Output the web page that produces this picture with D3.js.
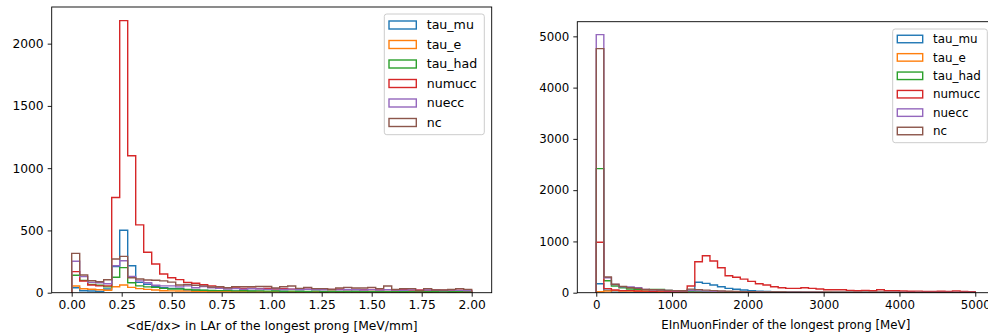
<!DOCTYPE html>
<html>
<head>
<meta charset="utf-8">
<script src="https://d3js.org/d3.v7.min.js"></script>
<style>
  body { margin: 0; background: #fff; }
  svg { font-family: "DejaVu Sans", sans-serif; }
</style>
</head>
<body>
<svg id="chart" width="988" height="334"></svg>
<script>
// categories (legend order) and matplotlib tab10 colours
const categories = ["tau_mu", "tau_e", "tau_had", "numucc", "nuecc", "nc"];
const colors = ["#1f77b4", "#ff7f0e", "#2ca02c", "#d62728", "#9467bd", "#8c564b"];

// left panel: <dE/dx>, 50 bins from 0 to 2 MeV/mm
const dedxEdges = { lo: 0, hi: 2, n: 50 };
const dedxTauMu = [40, 16, 14, 11, 30, 209, 501, 217, 83, 68, 50, 40, 35, 35, 22, 20, 18, 15,
  14, 12, 13, 10, 12, 11, 9, 12, 10, 8, 11, 9, 10, 8, 9, 7, 10, 8, 9, 7, 8, 9, 6, 8, 7, 9, 6, 7, 8, 6, 7, 6];
const dedxTauE = [54, 32, 28, 24, 20, 48, 62, 43, 33, 27, 22, 16, 15, 14, 13, 12, 11, 10,
  9, 10, 8, 9, 8, 7, 9, 8, 7, 8, 6, 7, 8, 6, 7, 6, 7, 5, 6, 7, 5, 6, 5, 6, 5, 6, 4, 5, 6, 5, 4, 5];
const dedxTauHad = [140, 99, 67, 60, 47, 124, 201, 80, 55, 47, 43, 35, 30, 30, 27, 22, 20, 18,
  17, 18, 15, 16, 14, 15, 13, 14, 12, 13, 12, 11, 13, 10, 12, 11, 10, 12, 9, 11, 10, 9, 11, 8, 10, 9, 8, 10, 9, 8, 9, 8];
const dedxNumucc = [169, 94, 62, 55, 55, 765, 2185, 1100, 545, 325, 230, 150, 120, 105, 83, 76, 65, 55,
  45, 40, 38, 35, 36, 33, 34, 30, 32, 29, 31, 28, 30, 27, 26, 28, 25, 27, 24, 26, 23, 25, 22, 24, 21, 23, 20, 22, 21, 19, 20, 18];
const dedxNuecc = [252, 129, 83, 80, 72, 217, 257, 130, 95, 80, 60, 55, 55, 47, 55, 40, 50, 40,
  35, 30, 33, 28, 32, 30, 27, 31, 26, 29, 25, 28, 26, 24, 27, 23, 26, 24, 22, 25, 21, 24, 22, 20, 23, 19, 22, 20, 18, 21, 19, 17];
const dedxNc = [316, 142, 96, 88, 104, 271, 292, 120, 110, 102, 100, 95, 85, 62, 66, 60, 55, 46,
  48, 40, 48, 48, 48, 50, 50, 38, 48, 54, 35, 43, 33, 33, 27, 38, 43, 38, 38, 43, 33, 54, 27, 33, 33, 16, 33, 22, 22, 27, 33, 27];

// right panel: EInMuonFinder, 50 bins from 0 to 5000 MeV
const emuEdges = { lo: 0, hi: 5000, n: 50 };
const emuTauMu = [176, 47, 12, 8, 6, 5, 5, 4, 4, 4, 5, 10, 50, 203, 182, 150, 117, 85, 66, 52,
  40, 30, 22, 16, 12, 9, 8, 7, 7, 6, 6, 5, 5, 4, 4, 4, 3, 3, 3, 3, 2, 2, 2, 2, 2, 1, 1, 1, 1, 1];
const emuTauE = [20, 33, 40, 33, 30, 27, 22, 18, 15, 12, 10, 9, 12, 10, 9, 8, 7, 7, 6, 6,
  5, 5, 5, 4, 4, 4, 3, 3, 3, 3, 3, 2, 2, 2, 2, 2, 2, 2, 1, 1, 1, 1, 1, 1, 1, 1, 1, 1, 1, 1];
const emuTauHad = [2420, 234, 131, 98, 72, 65, 59, 65, 65, 45, 35, 30, 28, 25, 20, 18, 16, 14, 12, 11,
  10, 9, 9, 8, 8, 7, 7, 6, 6, 6, 5, 5, 5, 5, 4, 4, 4, 4, 3, 3, 3, 3, 3, 2, 2, 2, 2, 2, 2, 2];
const emuNumucc = [983, 80, 53, 40, 40, 33, 30, 28, 30, 28, 25, 30, 130, 605, 722, 619, 488, 332, 300, 265,
  220, 176, 150, 117, 98, 85, 85, 98, 85, 72, 59, 59, 59, 46, 39, 46, 39, 59, 39, 39,
  33, 28, 30, 26, 25, 28, 24, 33, 22, 20];
const emuNuecc = [5034, 293, 160, 117, 111, 98, 65, 55, 50, 42, 38, 35, 40, 35, 30, 26, 22, 20, 17, 15,
  14, 13, 12, 11, 10, 10, 9, 9, 8, 8, 7, 7, 7, 6, 6, 6, 6, 5, 5, 5, 5, 5, 4, 4, 4, 4, 4, 4, 3, 3];
const emuNc = [4761, 306, 164, 124, 98, 85, 65, 59, 52, 46, 40, 38, 70, 60, 50, 40, 32, 28, 24, 20,
  18, 16, 15, 14, 13, 12, 12, 11, 11, 10, 10, 9, 9, 9, 8, 8, 8, 8, 7, 7, 7, 7, 6, 6, 6, 6, 6, 5, 5, 5];

// tick values
const dedxXTicks = [0, 0.25, 0.5, 0.75, 1.0, 1.25, 1.5, 1.75, 2.0];
const dedxYTicks = [0, 500, 1000, 1500, 2000];
const emuXTicks = [0, 1000, 2000, 3000, 4000, 5000];
const emuYTicks = [0, 1000, 2000, 3000, 4000, 5000];

const svg = d3.select("#chart");

function drawPanel(cfg) {
  const edgesArr = d3.range(cfg.edges.n + 1).map(i => cfg.edges.lo + i * (cfg.edges.hi - cfg.edges.lo) / cfg.edges.n);
  const span = cfg.edges.hi - cfg.edges.lo;
  const ymax = d3.max(cfg.series, s => d3.max(s)) * 1.05;

  const x = d3.scaleLinear()
    .domain([cfg.edges.lo - span * 0.05, cfg.edges.hi + span * 0.05])
    .range([cfg.left, cfg.right]);
  const y = d3.scaleLinear()
    .domain([0, ymax])
    .range([cfg.bottom, cfg.top]);

  const g = svg.append("g");
  const clipId = "clip-" + cfg.id;
  g.append("clipPath").attr("id", clipId)
    .append("rect")
    .attr("x", cfg.left).attr("y", cfg.top)
    .attr("width", cfg.right - cfg.left).attr("height", cfg.bottom - cfg.top);

  const line = d3.line().x(d => x(d[0])).y(d => y(d[1]));

  // step histograms, drawn in legend order so nc ends on top
  cfg.series.forEach((vals, k) => {
    const pts = [[edgesArr[0], 0]];
    vals.forEach((v, i) => {
      pts.push([edgesArr[i], v]);
      pts.push([edgesArr[i + 1], v]);
    });
    pts.push([edgesArr[edgesArr.length - 1], 0]);
    g.append("path")
      .attr("clip-path", `url(#${clipId})`)
      .attr("d", line(pts))
      .attr("fill", "none")
      .attr("stroke", colors[k])
      .attr("stroke-width", 1.4)
      .attr("stroke-linejoin", "miter");
  });

  // axes
  const xAxis = d3.axisBottom(x).tickValues(cfg.xTicks).tickFormat(cfg.xFormat)
    .tickSizeInner(4).tickSizeOuter(0).tickPadding(4);
  const yAxis = d3.axisLeft(y).tickValues(cfg.yTicks).tickFormat(d3.format("d"))
    .tickSizeInner(4).tickSizeOuter(0).tickPadding(4);

  const gx = g.append("g").attr("transform", `translate(0,${cfg.bottom})`).call(xAxis);
  const gy = g.append("g").attr("transform", `translate(${cfg.left},0)`).call(yAxis);
  [gx, gy].forEach(a => {
    a.select(".domain").remove();
    a.selectAll("line").attr("stroke", "#000").attr("stroke-width", 0.9);
    a.selectAll("text").attr("fill", "#000").style("font-size", cfg.font + "px")
      .style("font-family", "DejaVu Sans");
  });

  // frame
  g.append("rect")
    .attr("x", cfg.left).attr("y", cfg.top)
    .attr("width", cfg.right - cfg.left).attr("height", cfg.bottom - cfg.top)
    .attr("fill", "none").attr("stroke", "#000").attr("stroke-width", 0.9);

  g.append("text")
    .attr("x", (cfg.left + cfg.right) / 2)
    .attr("y", cfg.labelY)
    .attr("text-anchor", "middle")
    .style("font-size", cfg.font + "px")
    .text(cfg.xLabel);

  // legend
  const L = cfg.legend;
  const lg = g.append("g");
  lg.append("rect")
    .attr("x", L.x).attr("y", L.y).attr("width", L.w).attr("height", L.h)
    .attr("rx", 2.5)
    .attr("fill", "#fff").attr("fill-opacity", 0.8)
    .attr("stroke", "#cccccc").attr("stroke-width", 1);
  categories.forEach((name, k) => {
    const cy = L.y0 + k * L.step;
    lg.append("rect")
      .attr("x", L.hx).attr("y", cy - L.hh / 2)
      .attr("width", L.hw).attr("height", L.hh)
      .attr("fill", "none").attr("stroke", colors[k]).attr("stroke-width", 1.4);
    lg.append("text")
      .attr("x", L.tx).attr("y", cy)
      .attr("dy", "0.35em")
      .style("font-size", L.font + "px")
      .text(name);
  });
}

drawPanel({
  id: "dedx",
  edges: dedxEdges,
  series: [dedxTauMu, dedxTauE, dedxTauHad, dedxNumucc, dedxNuecc, dedxNc],
  left: 51.7, right: 491.7, top: 7, bottom: 292.7,
  xTicks: dedxXTicks, yTicks: dedxYTicks, xFormat: d3.format(".2f"),
  font: 12.3, labelY: 330,
  xLabel: "<dE/dx> in LAr of the longest prong [MeV/mm]",
  legend: { x: 384.3, y: 14, w: 100, h: 120.7, hx: 389, hw: 27.3, hh: 8, tx: 426.7, y0: 25, step: 19.5, font: 12.6 }
});

drawPanel({
  id: "emu",
  edges: emuEdges,
  series: [emuTauMu, emuTauE, emuTauHad, emuNumucc, emuNuecc, emuNc],
  left: 577.3, right: 994.2, top: 21.7, bottom: 292.7,
  xTicks: emuXTicks, yTicks: emuYTicks, xFormat: d3.format("d"),
  font: 11.8, labelY: 329,
  xLabel: "EInMuonFinder of the longest prong [MeV]",
  legend: { x: 892.7, y: 29, w: 94.6, h: 113.7, hx: 897.3, hw: 25.4, hh: 7.5, tx: 933, y0: 39, step: 18.4, font: 11.9 }
});
</script>
</body>
</html>
